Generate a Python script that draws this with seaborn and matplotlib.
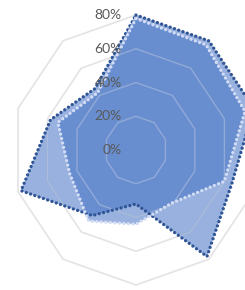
import numpy as np
import pandas as pd
import seaborn as sns
import matplotlib.pyplot as plt

# ten spokes, clockwise from the top (category names are cut off in the picture)
categories = list(range(1, 11))
series_a = [80, 80, 80, 65, 78, 32, 48, 78, 58, 45]
series_b = [78, 77, 74, 60, 39, 44, 52, 45, 53, 42]
ring_levels = [20, 40, 60, 80]
tick_values = [0, 20, 40, 60, 80]
tick_labels = ["0%", "20%", "40%", "60%", "80%"]

sns.set_style("white")
plt.rcParams['font.family'] = ['Lato', 'DejaVu Sans']

fig = plt.figure(figsize=(2.45, 2.9), dpi=100)
# centre sits at about (136, 150) px, chart is a little squashed sideways
ax = fig.add_axes([-0.0016, -0.0293, 1.113, 1.024], projection='polar')
ax.set_aspect('auto')
ax.set_theta_zero_location('N')
ax.set_theta_direction(-1)
ax.set_ylim(0, 88)
ax.set_xticks([])
ax.set_yticks([])
ax.grid(False)
ax.spines['polar'].set_visible(False)
ax.patch.set_alpha(0)

theta = np.linspace(0, 2 * np.pi, len(categories), endpoint=False)
theta_closed = np.append(theta, 2 * np.pi)


def closed(v):
    return np.append(v, v[0])


# decagon rings under the fills
for lv in ring_levels:
    ax.plot(theta_closed, [lv] * len(theta_closed), color='#d9d9d9', lw=1.1, zorder=1)

ax.fill(theta_closed, closed(series_a), color='#4472c4', alpha=0.55, lw=0, zorder=2)
ax.fill(theta_closed, closed(series_b), color='#4472c4', alpha=0.55, lw=0, zorder=3)

# rings show through the fill as lighter lines
for lv in ring_levels:
    ax.plot(theta_closed, [lv] * len(theta_closed), color='white', alpha=0.3, lw=1, zorder=4)

df_a = pd.DataFrame({'theta': theta_closed, 'value': closed(series_a)})
df_b = pd.DataFrame({'theta': theta_closed, 'value': closed(series_b)})

sns.lineplot(data=df_a, x='theta', y='value', sort=False, estimator=None, ax=ax,
             color='#2f5597', lw=2.4, linestyle=(0, (0.01, 1.35)),
             dash_capstyle='round', zorder=5)
sns.lineplot(data=df_b, x='theta', y='value', sort=False, estimator=None, ax=ax,
             color='#d2ddf5', lw=2.4, linestyle=(0, (0.01, 1.35)),
             dash_capstyle='round', zorder=6)
ax.set_xlabel('')
ax.set_ylabel('')

for v, lab in zip(tick_values, tick_labels):
    ax.annotate(lab, xy=(0, v), xytext=(-14, 0), textcoords='offset pixels',
                ha='right', va='center', fontsize=10, color='#595959', zorder=7)

plt.savefig('out.png', dpi=100)
